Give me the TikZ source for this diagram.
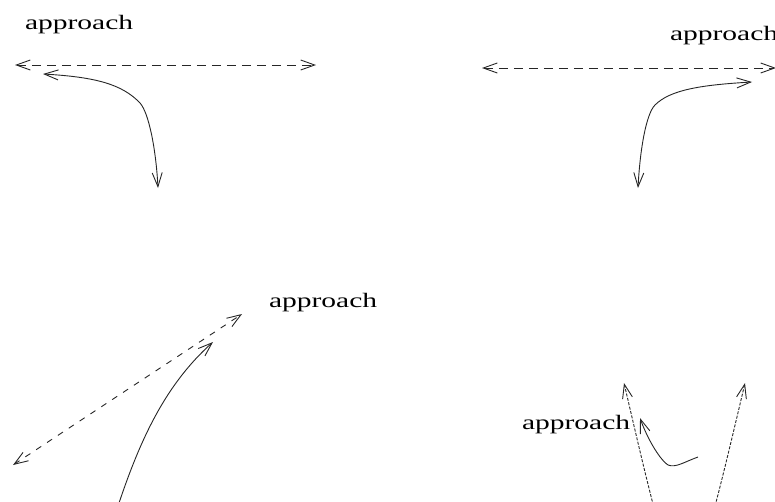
\documentclass[tikz,border=0pt]{standalone}
\usepackage{fontspec}
\setmainfont{Liberation Serif}
\usetikzlibrary{arrows.meta}
\tikzset{
  ln/.style={line width=0.9pt, draw=black!85},
  tip/.style={{Straight Barb[length=14pt,width=10pt]}-{Straight Barb[length=14pt,width=10pt]}},
  endtip/.style={-{Straight Barb[length=14pt,width=10pt]}},
  dsh/.style={dash pattern=on 9pt off 6pt},
  dshb/.style={dash pattern=on 6pt off 7pt},
  dots/.style={dash pattern=on 3pt off 1.5pt},
  lbl/.style={anchor=base west, inner sep=0pt, outer sep=0pt}
}
\newcommand{\apptext}{\scalebox{1.44}[1]{\fontsize{20.5}{24}\selectfont approach}}
\begin{document}
\begin{tikzpicture}[x=1pt,y=-1pt]
\useasboundingbox (0,0) rectangle (775,501);
% labels
\node[lbl] (t1) at (25,29.5) {\apptext};
\node[lbl] (t2) at (670,40) {\apptext};
\node[lbl] (t3) at (269,307.7) {\apptext};
\node[lbl] (t4) at (522,429) {\apptext};
% coordinates
\coordinate (d1a) at (15,65);
\coordinate (d1b) at (316,65);
\coordinate (s1a) at (43,74);
\coordinate (s1b) at (158,188);
\coordinate (d2a) at (482,68);
\coordinate (d2b) at (776,68);
\coordinate (s2a) at (752,82);
\coordinate (s2b) at (638,188);
\coordinate (d3a) at (13,465);
\coordinate (d3b) at (242,314);
\coordinate (s3a) at (118,506);
\coordinate (s3b) at (213,342);
\coordinate (d4a) at (624,383);
\coordinate (d4b) at (745,383);
\coordinate (s4a) at (698,457);
\coordinate (s4b) at (640,418);
% top left
\draw[ln,dsh,tip] (d1a) -- (d1b);
\draw[ln,tip] (s1a) .. controls (95,77) and (122,84) .. (140,103)
  .. controls (149,113) and (156,150) .. (s1b);
% top right
\draw[ln,dsh,tip] (d2a) -- (d2b);
\draw[ln,tip] (s2a) .. controls (700,85) and (670,90) .. (655,105)
  .. controls (646,114) and (640,150) .. (s2b);
% bottom left
\draw[ln,dshb,tip] (d3a) -- (d3b);
\draw[ln,endtip] (s3a) .. controls (140,440) and (165,385) .. (s3b);
% bottom right
\draw[ln,dots,tip] (d4a) .. controls (684,641) .. (d4b);
\draw[ln,endtip] (s4a) .. controls (684,462) and (676,468) .. (668,465)
  .. controls (658,458) and (646,435) .. (s4b);
\end{tikzpicture}
\end{document}
